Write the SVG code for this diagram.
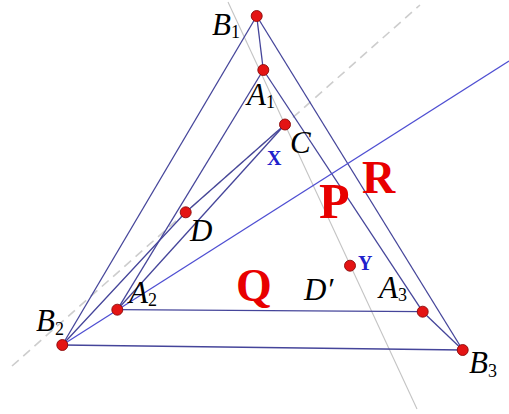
<svg xmlns="http://www.w3.org/2000/svg" width="509" height="414" viewBox="0 0 509 414">
<style>
.ln{stroke:#45459a;stroke-width:1.3;fill:none}
.ln2{stroke:#4f4fd2;stroke-width:1.3;fill:none}
.gray{stroke:#c4c4c4;stroke-width:1.1;fill:none}
.dash{stroke:#cdcdcd;stroke-width:1.6;stroke-dasharray:9 6;fill:none}
.pt{fill:#e41414;stroke:#8a0a0a;stroke-width:0.9}
.lbl{font-family:"Liberation Serif","DejaVu Serif",serif;font-style:italic;font-size:31px;fill:#000}
.sub{font-style:normal;font-size:18px}
.big{font-family:"Liberation Serif","DejaVu Serif",serif;font-weight:bold;font-size:46px;fill:#e80000}
.bl{font-family:"Liberation Serif","DejaVu Serif",serif;font-weight:bold;font-size:20px;fill:#2020cc}
</style>
<rect width="509" height="414" fill="#fff"/>
<g id="connectors">
<line class="dash" x1="12" y1="366" x2="420" y2="5"/>
<line class="gray" x1="228" y1="2" x2="417" y2="409"/>
<line class="ln" x1="256.7" y1="16" x2="62.3" y2="345"/>
<line class="ln" x1="62.3" y1="345" x2="462.7" y2="350"/>
<line class="ln" x1="462.7" y1="350" x2="256.7" y2="16"/>
<line class="ln" x1="256.7" y1="16" x2="263.3" y2="70"/>
<line class="ln" x1="263.3" y1="70" x2="117.3" y2="309.7"/>
<line class="ln" x1="117.3" y1="309.7" x2="422.7" y2="311.7"/>
<line class="ln" x1="422.7" y1="311.7" x2="263.3" y2="70"/>
<line class="ln" x1="422.7" y1="311.7" x2="462.7" y2="350"/>
<line class="ln2" x1="62.3" y1="345" x2="509" y2="61"/>
<line class="ln" x1="285" y1="124.5" x2="117.3" y2="309.7"/>
<polyline class="ln" points="285,124.5 185.7,212.3 62.3,345"/>
</g>
<g id="B1"><circle class="pt" cx="256.7" cy="16" r="5.5"/><text class="lbl" x="212" y="35">B<tspan class="sub" dy="3">1</tspan></text></g>
<g id="A1"><circle class="pt" cx="263.3" cy="70" r="5.5"/><text class="lbl" x="247" y="105">A<tspan class="sub" dy="3">1</tspan></text></g>
<g id="C"><circle class="pt" cx="285" cy="124.5" r="5.5"/><text class="lbl" x="290" y="153">C</text></g>
<g id="D"><circle class="pt" cx="185.7" cy="212.3" r="5.5"/><text class="lbl" x="190" y="241">D</text></g>
<g id="A2"><circle class="pt" cx="117.3" cy="309.7" r="5.5"/><text class="lbl" x="129" y="303">A<tspan class="sub" dy="3">2</tspan></text></g>
<g id="B2"><circle class="pt" cx="62.3" cy="345" r="5.5"/><text class="lbl" x="36" y="331">B<tspan class="sub" dy="4">2</tspan></text></g>
<g id="Dp"><circle class="pt" cx="350" cy="265.7" r="5.5"/><text class="lbl" x="304" y="300">D′</text></g>
<g id="A3"><circle class="pt" cx="422.7" cy="311.7" r="5.5"/><text class="lbl" x="379" y="298">A<tspan class="sub" dy="3">3</tspan></text></g>
<g id="B3"><circle class="pt" cx="462.7" cy="350" r="5.5"/><text class="lbl" x="469" y="373">B<tspan class="sub" dy="4">3</tspan></text></g>
<g id="labels">
<text class="bl" x="267" y="165">X</text>
<text class="bl" x="358" y="270">Y</text>
<text class="big" x="319" y="218" style="font-size:50px">P</text>
<text class="big" x="236" y="301">Q</text>
<text class="big" x="362" y="193">R</text>
</g>
</svg>
